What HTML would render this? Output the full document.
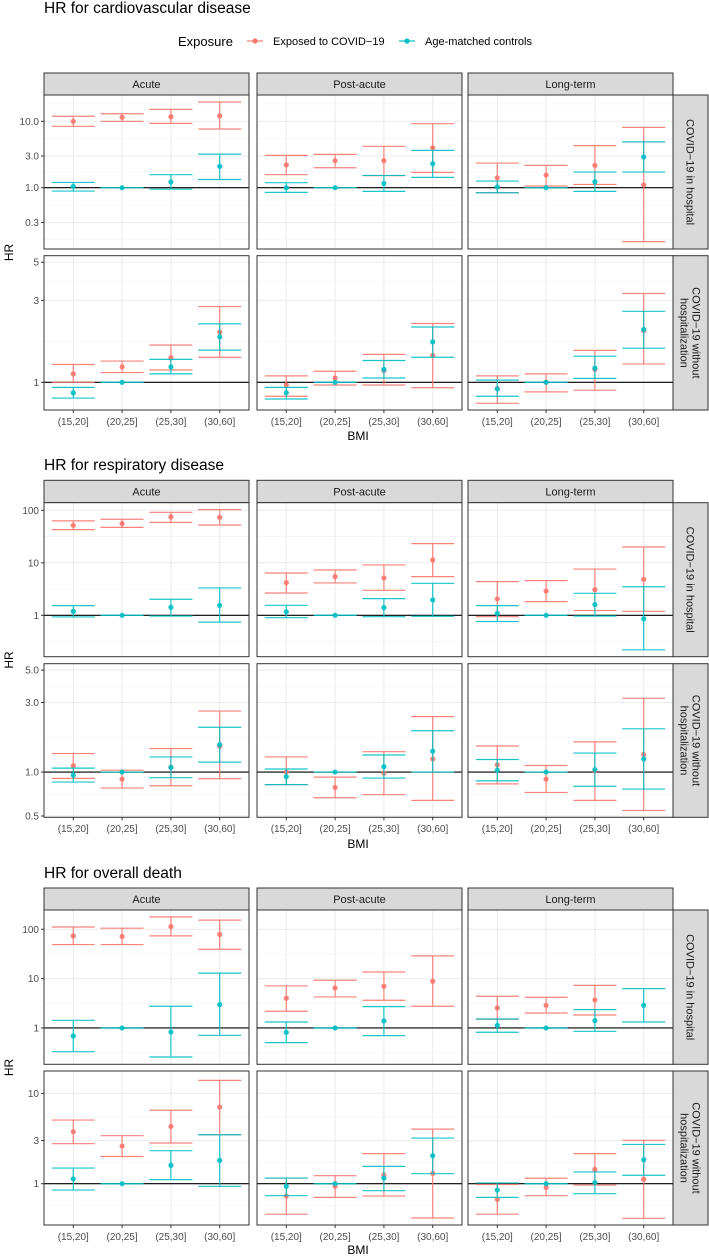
<!DOCTYPE html>
<html><head><meta charset="utf-8">
<style>
html,body{margin:0;padding:0;background:#fff;}
svg{display:block;font-family:"Liberation Sans",sans-serif;}
</style></head>
<body>
<svg id="chart" width="709" height="1256" viewBox="0 0 709 1256" xmlns="http://www.w3.org/2000/svg">
  <g id="legend">
    <text x="178" y="46" font-size="13" fill="#000">Exposure</text>
    <g>
      <line x1="247" y1="41" x2="263" y2="41" stroke="#F8766D" stroke-width="1.2"/>
      <circle cx="255" cy="41" r="2.6" fill="#F8766D"/>
      <text x="273" y="45" font-size="11" fill="#000">Exposed to COVID−19</text>
    </g>
    <g>
      <line x1="399" y1="41" x2="415" y2="41" stroke="#00BFC4" stroke-width="1.2"/>
      <circle cx="407" cy="41" r="2.6" fill="#00BFC4"/>
      <text x="425" y="45" font-size="11" fill="#000">Age-matched controls</text>
    </g>
  </g>
</svg>
<script>
// ---- data: each entry [estimate, lower, upper]; 12 entries = Acute(4), Post-acute(4), Long-term(4)
const categories = ["(15,20]", "(20,25]", "(25,30]", "(30,60]"];
const periods = ["Acute", "Post-acute", "Long-term"];
const cvdHospRed = [[10,8.4,11.9],[11.5,10,13],[11.7,9.3,15.1],[12.1,7.65,19.5],
  [2.2,1.57,3.07],[2.55,2.0,3.18],[2.55,1.52,4.2],[4.0,1.7,9.2],
  [1.41,0.84,2.35],[1.55,1.06,2.17],[2.17,1.12,4.3],[1.1,0.154,8.1]];
const cvdHospTeal = [[1.05,0.89,1.2],[1,1,1],[1.22,0.95,1.57],[2.1,1.33,3.2],
  [1.0,0.85,1.19],[1,1,1],[1.16,0.88,1.53],[2.3,1.43,3.65],
  [1.03,0.84,1.26],[1,1,1],[1.23,0.88,1.72],[2.9,1.72,4.9]];
const cvdNoHospRed = [[1.12,1.0,1.27],[1.23,1.14,1.33],[1.39,1.18,1.65],[1.96,1.40,2.76],
  [0.965,0.83,1.09],[1.06,0.965,1.16],[1.17,0.965,1.455],[1.435,0.93,2.2],
  [0.92,0.755,1.09],[1.0,0.88,1.12],[1.19,0.90,1.535],[2.0,1.28,3.29]];
const cvdNoHospTeal = [[0.87,0.81,0.935],[1,1,1],[1.23,1.12,1.36],[1.84,1.54,2.19],
  [0.87,0.80,0.935],[1,1,1],[1.19,1.06,1.34],[1.72,1.40,2.1],
  [0.915,0.83,1.03],[1,1,1],[1.21,1.055,1.42],[2.03,1.58,2.59]];
const respHospRed = [[51.8,42.8,62.9],[55.7,47.3,67.5],[74.6,58.9,91.6],[73.5,52.5,103],
  [4.19,2.66,6.4],[5.46,4.13,7.3],[5.14,2.99,9.1],[11.3,5.46,23.2],
  [2.05,0.94,4.38],[2.9,1.82,4.58],[3.08,1.23,7.6],[4.85,1.19,20.0]];
const respHospTeal = [[1.19,0.93,1.53],[1,1,1],[1.42,0.97,2.02],[1.55,0.74,3.32],
  [1.17,0.9,1.55],[1,1,1],[1.4,0.94,2.08],[1.96,0.96,4.07],
  [1.09,0.76,1.53],[1,1,1],[1.6,0.97,2.62],[0.86,0.22,3.5]];
const respNoHospRed = [[1.105,0.905,1.34],[0.895,0.777,1.03],[1.08,0.806,1.45],[1.5,0.9,2.62],
  [1.0,0.82,1.27],[0.785,0.667,0.924],[0.984,0.70,1.38],[1.23,0.64,2.4],
  [1.12,0.83,1.51],[0.895,0.725,1.11],[1.02,0.64,1.61],[1.32,0.546,3.21]];
const respNoHospTeal = [[0.953,0.854,1.065],[1,1,1],[1.076,0.915,1.27],[1.54,1.17,2.03],
  [0.93,0.82,1.05],[1,1,1],[1.09,0.91,1.31],[1.39,1.0,1.92],
  [1.03,0.87,1.22],[1,1,1],[1.04,0.80,1.35],[1.23,0.765,1.98]];
const deathHospRed = [[73.5,49,111],[71.3,49,105],[113,73.5,178],[78.3,39.4,153],
  [4.0,2.18,7.1],[6.47,4.25,9.27],[7.0,3.64,13.6],[8.85,2.75,28.9],
  [2.55,1.5,4.39],[2.88,2.01,4.19],[3.7,1.83,7.3],null];
const deathHospTeal = [[0.688,0.331,1.43],[1,1,1],[0.83,0.258,2.75],[2.97,0.71,12.9],
  [0.817,0.504,1.32],[1,1,1],[1.39,0.70,2.71],null,
  [1.13,0.82,1.52],[1,1,1],[1.41,0.856,2.35],[2.88,1.32,6.27]];
const deathNoHospRed = [[3.76,2.77,5.06],[2.61,2.0,3.4],[4.3,2.82,6.5],[7.05,3.48,13.9],
  [0.73,0.46,1.155],[0.935,0.706,1.226],[1.25,0.73,2.15],[1.3,0.417,4.02],
  [0.67,0.46,0.98],[0.91,0.737,1.15],[1.44,0.966,2.15],[1.12,0.414,3.02]];
const deathNoHospTeal = [[1.13,0.85,1.49],[1,1,1],[1.6,1.11,2.32],[1.81,0.935,3.48],
  [0.935,0.737,1.155],[1,1,1],[1.155,0.837,1.555],[2.04,1.29,3.2],
  [0.85,0.706,1.02],[1,1,1],[1.03,0.775,1.35],[1.84,1.24,2.72]];
const cvdTicks1 = [0.3, 1, 3, 10], cvdTickLabels1 = ["0.3","1.0","3.0","10.0"];
const cvdTicks2 = [1, 3, 5], cvdTickLabels2 = ["1","3","5"];
const respTicks1 = [1, 10, 100], respTickLabels1 = ["1","10","100"];
const respTicks2 = [0.5, 1, 3, 5], respTickLabels2 = ["0.5","1.0","3.0","5.0"];
const deathTicks1 = [1, 10, 100], deathTickLabels1 = ["1","10","100"];
const deathTicks2 = [1, 3, 10], deathTickLabels2 = ["1","3","10"];

const NS = "http://www.w3.org/2000/svg";
const svg = document.getElementById("chart");
const RED = "#F8766D", TEAL = "#00BFC4";
const colX = [44, 257, 468], colW = 205;
function mk(tag, attrs, parent) {
  const e = document.createElementNS(NS, tag);
  for (const k in attrs) e.setAttribute(k, attrs[k]);
  (parent || svg).appendChild(e);
  return e;
}
function xScale(col, i) { return colX[col] + (i + 0.6) * colW / 4.2; }

const charts = [
  { key: "cardiovascular", title: "HR for cardiovascular disease", titleY: 13, stripTop: 73,
    rows: [
      { top: 95, bot: 249, lmin: -0.923, lmax: 1.396, ticks: cvdTicks1, labels: cvdTickLabels1, red: cvdHospRed, teal: cvdHospTeal },
      { top: 255.7, bot: 410, lmin: -0.161, lmax: 0.737, ticks: cvdTicks2, labels: cvdTickLabels2, red: cvdNoHospRed, teal: cvdNoHospTeal }],
    tickY: 425, bmiY: 440 },
  { key: "respiratory", title: "HR for respiratory disease", titleY: 470, stripTop: 480.3,
    rows: [
      { top: 502.7, bot: 656.7, lmin: -0.789, lmax: 2.145, ticks: respTicks1, labels: respTickLabels1, red: respHospRed, teal: respHospTeal },
      { top: 663.7, bot: 817.3, lmin: -0.310, lmax: 0.743, ticks: respTicks2, labels: respTickLabels2, red: respNoHospRed, teal: respNoHospTeal }],
    tickY: 832, bmiY: 848 },
  { key: "death", title: "HR for overall death", titleY: 878, stripTop: 888,
    rows: [
      { top: 910, bot: 1064.3, lmin: -0.736, lmax: 2.39, ticks: deathTicks1, labels: deathTickLabels1, red: deathHospRed, teal: deathHospTeal },
      { top: 1071, bot: 1225, lmin: -0.457, lmax: 1.247, ticks: deathTicks2, labels: deathTickLabels2, red: deathNoHospRed, teal: deathNoHospTeal }],
    tickY: 1240, bmiY: 1254 }
];
const rowLabels = [["COVID−19  in  hospital"], ["COVID−19 without", "hospitalization"]];

charts.forEach(ch => {
  const g = mk("g", {});
  
  
  const t = mk("text", { x: 44, y: ch.titleY, "font-size": 15.5, fill: "#000" }, g);
  t.textContent = ch.title;
  
  
  // column strips
  periods.forEach((p, c) => {
    const r = mk("rect", { x: colX[c], y: ch.stripTop, width: colW, height: ch.rows[0].top - ch.stripTop, fill: "#D9D9D9", stroke: "#333", "stroke-width": 1 }, g);
    
    
    const st = mk("text", { x: colX[c] + colW / 2, y: (ch.stripTop + ch.rows[0].top) / 2 + 4, "text-anchor": "middle", "font-size": 11, fill: "#1a1a1a" }, g);
    st.textContent = p;
    
    
  });
  ch.rows.forEach((row, ri) => {
    const y = v => row.bot - (Math.log10(v) - row.lmin) / (row.lmax - row.lmin) * (row.bot - row.top);
    // minor ticks (midpoints in log space)
    const lt = row.ticks.map(v => Math.log10(v));
    const minors = [];
    for (let k = 0; k < lt.length - 1; k++) minors.push((lt[k] + lt[k + 1]) / 2);
    const step0 = lt[1] - lt[0], stepN = lt[lt.length - 1] - lt[lt.length - 2];
    minors.push(lt[0] - step0 / 2, lt[lt.length - 1] + stepN / 2);
    for (let c = 0; c < 3; c++) {
      const pg = mk("g", {}, g);
      
      
      mk("rect", { x: colX[c], y: row.top, width: colW, height: row.bot - row.top, fill: "#fff" }, pg);
      minors.forEach(m => {
        if (m > row.lmin && m < row.lmax) {
          const yy = y(Math.pow(10, m));
          mk("line", { x1: colX[c], x2: colX[c] + colW, y1: yy, y2: yy, stroke: "#F2F2F2", "stroke-width": 0.6 }, pg);
        }
      });
      row.ticks.forEach(v => {
        mk("line", { x1: colX[c], x2: colX[c] + colW, y1: y(v), y2: y(v), stroke: "#EBEBEB", "stroke-width": 1 }, pg);
      });
      categories.forEach((cat, i) => {
        mk("line", { x1: xScale(c, i), x2: xScale(c, i), y1: row.top, y2: row.bot, stroke: "#EBEBEB", "stroke-width": 1 }, pg);
      });
      const ref = mk("line", { x1: colX[c], x2: colX[c] + colW, y1: y(1), y2: y(1), stroke: "#000", "stroke-width": 1.1 }, pg);
      
      
      [[row.red, RED, "exposed"], [row.teal, TEAL, "control"]].forEach(([series, col, nm]) => {
        categories.forEach((cat, i) => {
          const d = series[c * 4 + i];
          if (!d) return;
          const cx = xScale(c, i), hw = 21.5;
          const eg = mk("g", { stroke: col, "stroke-width": 1.2, opacity: 0.9 }, pg);
          
          
          mk("line", { x1: cx, x2: cx, y1: y(d[1]), y2: y(d[2]) }, eg);
          mk("line", { x1: cx - hw, x2: cx + hw, y1: y(d[1]), y2: y(d[1]) }, eg);
          mk("line", { x1: cx - hw, x2: cx + hw, y1: y(d[2]), y2: y(d[2]) }, eg);
          const pt = mk("circle", { cx: cx, cy: y(d[0]), r: 2.6, fill: col, opacity: 0.9 }, pg);
          
          
        });
      });
      mk("rect", { x: colX[c], y: row.top, width: colW, height: row.bot - row.top, fill: "none", stroke: "#333", "stroke-width": 1 }, pg);
    }
    // y ticks
    row.ticks.forEach((v, k) => {
      mk("line", { x1: 41, x2: 44, y1: y(v), y2: y(v), stroke: "#333", "stroke-width": 1 }, g);
      const tl = mk("text", { x: 39, y: y(v) + 3.5, "text-anchor": "end", "font-size": 10, fill: "#4D4D4D" }, g);
      tl.textContent = row.labels[k];
      
      
    });
    // right strip
    const rs = mk("rect", { x: 673, y: row.top, width: 35, height: row.bot - row.top, fill: "#D9D9D9", stroke: "#333", "stroke-width": 1 }, g);
    
    
    const cy = (row.top + row.bot) / 2;
    const lines = rowLabels[ri];
    lines.forEach((ln, li) => {
      const off = lines.length === 1 ? 0 : (li === 0 ? 6 : -6);
      const tx = 690.5 + off;
      const lt2 = mk("text", { x: tx, y: cy, "text-anchor": "middle", "font-size": 11, fill: "#1a1a1a", transform: `rotate(90 ${tx} ${cy}) translate(0 4)`, "xml:space": "preserve" }, g);
      lt2.textContent = ln;
      
      
    });
  });
  // x ticks
  const lastBot = ch.rows[1].bot;
  for (let c = 0; c < 3; c++) {
    categories.forEach((cat, i) => {
      mk("line", { x1: xScale(c, i), x2: xScale(c, i), y1: lastBot, y2: lastBot + 3, stroke: "#333" }, g);
      const xt = mk("text", { x: xScale(c, i), y: ch.tickY, "text-anchor": "middle", "font-size": 10, fill: "#4D4D4D" }, g);
      xt.textContent = cat;
      
      
    });
  }
  const bmi = mk("text", { x: 358, y: ch.bmiY, "text-anchor": "middle", "font-size": 12, fill: "#000" }, g);
  bmi.textContent = "BMI";
  
  
  const hy = (ch.rows[0].top + ch.rows[1].bot) / 2;
  const hr = mk("text", { x: 13, y: hy, "text-anchor": "middle", "font-size": 12, fill: "#000", transform: `rotate(-90 13 ${hy})` }, g);
  hr.textContent = "HR";
  
  
});
</script>
</body></html>
